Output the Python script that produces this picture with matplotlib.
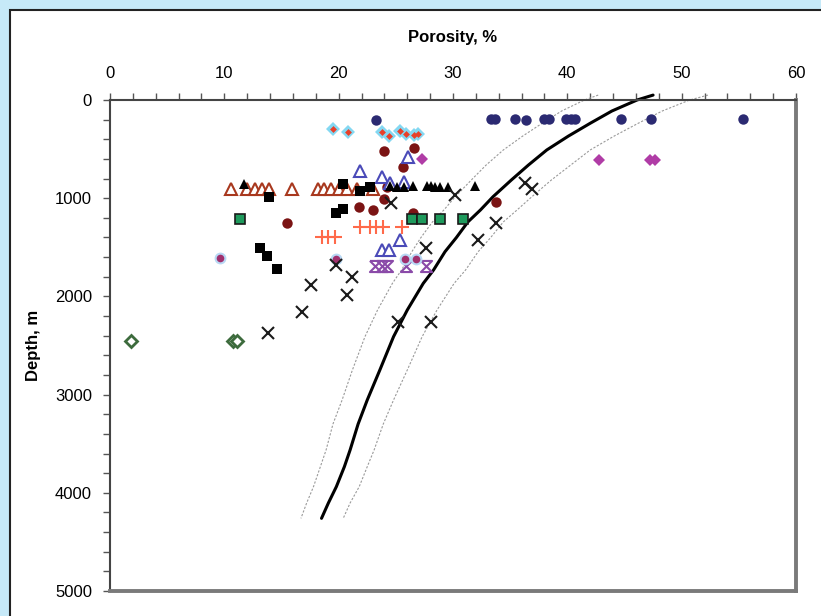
import matplotlib
matplotlib.use("Agg")
import matplotlib.pyplot as plt
from matplotlib.patches import Rectangle
from matplotlib.ticker import MultipleLocator

plt.rcParams['font.family'] = ['Liberation Sans Narrow', 'Liberation Sans', 'DejaVu Sans']

# compaction trend (solid) and its bounds (dashed)
trend_depth = [-50, 0, 112, 237, 367, 509, 662, 815, 985, 1120, 1242, 1400, 1545, 1731, 1867,
               2139, 2410, 2750, 3055, 3300, 3564, 3734, 3937, 4104, 4260]
trend_por = [47.5, 46.1, 43.9, 42.0, 40.1, 38.2, 36.6, 35.1, 33.5, 32.4, 31.3, 30.3, 29.3, 28.3, 27.4,
             26.0, 24.8, 23.6, 22.5, 21.7, 21.0, 20.5, 19.8, 19.1, 18.5]
low_por = [42.7, 41.5, 39.5, 37.8, 36.1, 34.4, 32.9, 31.6, 30.2, 29.2, 28.2, 27.2, 26.4, 25.5, 24.7,
           23.4, 22.3, 21.2, 20.3, 19.5, 18.9, 18.4, 17.8, 17.2, 16.7]
high_por = [52.3, 50.7, 48.3, 46.2, 44.1, 42.0, 40.3, 38.6, 36.9, 35.6, 34.4, 33.3, 32.2, 31.1, 30.1,
            28.6, 27.3, 26.0, 24.8, 23.9, 23.1, 22.5, 21.8, 21.0, 20.4]

# measured samples
navy_por = [23.3, 33.3, 33.7, 35.4, 36.4, 38.0, 38.4, 39.9, 40.3, 40.7, 44.7, 47.3, 55.4]
navy_dep = [205, 190, 190, 190, 205, 190, 190, 190, 190, 190, 190, 190, 190]

cyan_por = [19.5, 20.8, 23.8, 24.4, 25.4, 25.9, 26.6, 26.9]
cyan_dep = [298, 322, 329, 363, 312, 346, 356, 350]

maroon_por = [24.0, 26.6, 25.6, 24.0, 21.8, 23.0, 33.8, 15.5, 26.5, 24.2]
maroon_dep = [516, 492, 679, 1011, 1093, 1120, 1035, 1249, 1154, 886]

magenta_por = [27.3, 42.8, 47.2, 47.7]
magenta_dep = [604, 611, 611, 611]

blue_tri_por = [21.9, 23.8, 26.1, 24.5, 25.7, 25.4, 23.8, 24.4]
blue_tri_dep = [720, 787, 584, 849, 832, 1426, 1527, 1527]

brown_tri_por = [10.6, 12.0, 12.7, 13.3, 13.9, 15.9, 18.2, 18.7, 19.3, 20.0, 20.7, 21.6, 23.0]
brown_tri_dep = [905] * 13

black_tri_por = [11.7, 24.5, 25.1, 25.7, 26.5, 27.7, 28.1, 28.4, 28.9, 29.6, 31.9]
black_tri_dep = [855, 875, 885, 885, 875, 880, 875, 885, 885, 885, 875]

black_sq_por = [13.9, 20.4, 19.8, 20.4, 13.1, 13.7, 14.6, 21.9, 22.7]
black_sq_dep = [984, 855, 1148, 1113, 1504, 1589, 1724, 924, 883]

green_sq_por = [11.4, 26.4, 27.3, 28.9, 30.9]
green_sq_dep = [1215, 1215, 1215, 1215, 1215]

plus_por = [18.5, 19.1, 19.7, 21.9, 22.7, 23.3, 23.9, 25.5]
plus_dep = [1398, 1398, 1398, 1290, 1290, 1290, 1290, 1290]

purple_por = [23.2, 23.8, 24.2, 25.9, 27.6]
purple_dep = [1690, 1690, 1690, 1690, 1690]

pink_por = [9.6, 19.8, 25.8, 26.8]
pink_dep = [1606, 1623, 1623, 1623]

cross_por = [17.6, 20.7, 21.2, 16.8, 13.8, 19.8, 24.6, 27.6, 25.2, 28.1, 30.2, 32.2, 33.8, 36.3, 36.9]
cross_dep = [1884, 1986, 1806, 2163, 2370, 1680, 1052, 1511, 2258, 2258, 967, 1426, 1256, 849, 910]

green_dia_por = [1.8, 10.8, 11.1]
green_dia_dep = [2454, 2454, 2454]

fig = plt.figure(figsize=(8.21, 6.16), dpi=100)
fig.patch.set_facecolor('#c6e9f8')
fig.patches.append(Rectangle((10 / 821, -0.05), 1.05, 1 - 10 / 616 + 0.05, transform=fig.transFigure,
                             facecolor='white', edgecolor='#222222', lw=1.5, zorder=-1))

ax = fig.add_axes([110 / 821, 1 - 591 / 616, 686 / 821, 491 / 616])
ax.set_facecolor('white')

# trend lines
dash = (0, (2, 1.5))
ax.plot(low_por, trend_depth, color='#9a9a9a', lw=0.8, ls=dash, clip_on=False, zorder=2)
ax.plot(high_por, trend_depth, color='#9a9a9a', lw=0.8, ls=dash, clip_on=False, zorder=2)
ax.plot(trend_por, trend_depth, color='black', lw=2.2, clip_on=False, zorder=2,
        solid_capstyle='round', solid_joinstyle='round')

# samples
ax.plot(navy_por, navy_dep, 'o', color='#2b2a72', ms=7.5, mew=0, zorder=3)
ax.plot(cyan_por, cyan_dep, 'D', color='#84d8f2', ms=7, mew=0, zorder=3)
ax.plot(cyan_por, cyan_dep, 'D', color='#e8402a', ms=3.5, mew=0, zorder=3)
ax.plot(maroon_por, maroon_dep, 'o', color='#7b1414', ms=7.5, mew=0, zorder=3)
ax.plot(magenta_por, magenta_dep, 'D', color='#b03ca6', ms=6, mew=0, zorder=3)
ax.plot(blue_tri_por, blue_tri_dep, '^', mfc='white', mec='#4a4ab8', ms=8, mew=1.5, zorder=3)
ax.plot(brown_tri_por, brown_tri_dep, '^', mfc='white', mec='#a8381e', ms=8, mew=1.5, zorder=3)
ax.plot(black_tri_por, black_tri_dep, '^', color='black', ms=7, mew=0, zorder=3)
ax.plot(black_sq_por, black_sq_dep, 's', color='black', ms=7, mew=0, zorder=3)
ax.plot(green_sq_por, green_sq_dep, 's', mfc='#1e9a5c', mec='#1a1a1a', ms=7, mew=1.2, zorder=3)
ax.plot(plus_por, plus_dep, '+', color='#ff6a4a', ms=10, mew=1.5, zorder=3)
hourglass = [(-1, 1), (1, 1), (-1, -1), (1, -1), (-1, 1)]
ax.plot(purple_por, purple_dep, ls='none', marker=hourglass, mfc='none', mec='#8a4aa8', ms=8, mew=1.5, zorder=3)
ax.plot(pink_por, pink_dep, 'o', mfc='#a0306e', mec='#b8d8f4', ms=7, mew=1.5, zorder=3)
ax.plot(cross_por, cross_dep, 'x', color='#1a1a1a', ms=9, mew=1.5, zorder=3)
ax.plot(green_dia_por, green_dia_dep, 'D', mfc='white', mec='#3d6b3d', ms=6, mew=2, zorder=3)

ax.set_xlim(0, 60)
ax.set_ylim(5000, 0)
ax.xaxis.tick_top()
ax.xaxis.set_label_position('top')
ax.xaxis.set_major_locator(MultipleLocator(10))
ax.xaxis.set_minor_locator(MultipleLocator(2))
ax.yaxis.set_major_locator(MultipleLocator(1000))
ax.yaxis.set_minor_locator(MultipleLocator(200))
ax.tick_params(axis='x', which='both', direction='out', length=5, width=1, color='#555555', labelsize=12, pad=9)
ax.tick_params(axis='y', which='both', direction='out', length=5, width=1, color='#555555', labelsize=12, pad=8)

for side in ['top', 'left']:
    ax.spines[side].set_color('#444444')
    ax.spines[side].set_linewidth(1.5)
for side in ['right', 'bottom']:
    ax.spines[side].set_color('#7a7a7a')
    ax.spines[side].set_linewidth(2.8)

ax.set_xlabel('Porosity, %', fontsize=12, fontweight='bold', labelpad=17)
ax.set_ylabel('Depth, m', fontsize=12, fontweight='bold', labelpad=10)

fig.savefig('out.png', dpi=100, facecolor=fig.get_facecolor())
